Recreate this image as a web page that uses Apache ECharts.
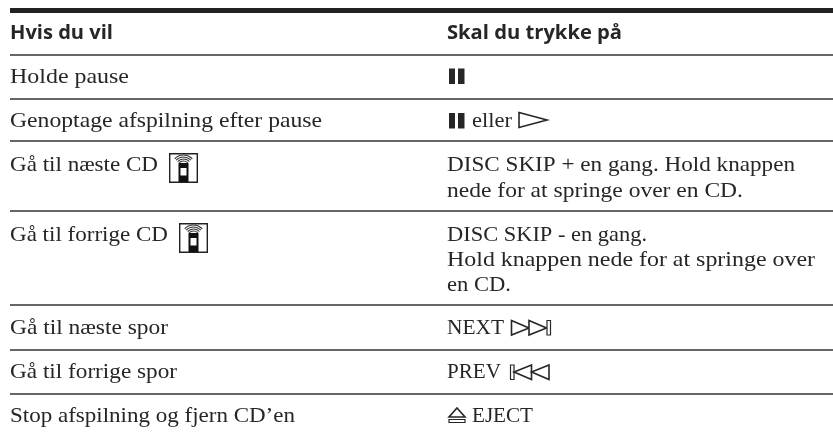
<!DOCTYPE html>
<html><head><meta charset="utf-8">
<style>html,body{margin:0;padding:0;background:#fff}#c{width:833px;height:432px}</style>
<script src="https://cdn.jsdelivr.net/npm/echarts@6/dist/echarts.min.js"></script>
</head><body><div id="c"></div>
<script>
const headers = ["Hvis du vil", "Skal du trykke på"];
const actions = ["Holde pause","Genoptage afspilning efter pause","Gå til næste CD","Gå til forrige CD","Gå til næste spor","Gå til forrige spor","Stop afspilning og fjern CD’en"];
const instructions = [[""],["eller"],["DISC SKIP + en gang. Hold knappen","nede for at springe over en CD."],["DISC SKIP - en gang.","Hold knappen nede for at springe over","en CD."],["NEXT"],["PREV"],["EJECT"]];

const INK = "#262626", SERIF = "'Liberation Serif'", SANS = "'Open Sans'";
const LEFT = 10, RIGHT = 447, FS = 21.5, HFS = 20;
const baselines = [84,128,172,242,335,379,423];
const leftEnds = [129,322,158,168,168,177,295];
const rightBase = [[84],[128],[172,198],[242,267,292],[335],[379],[423]];
const rightX = [447,472,447,447,447,447,472];
const rightEnds = [[0],[512],[795,743],[647,815,511],[504],[501],[533]];
const rules = [55,99,141,211,305,350,394];
const g = [];
const mctx = document.createElement("canvas").getContext("2d");
function text(s,x,b,end,opt){opt=opt||{};
  const fs=opt.fs||FS, ff=opt.ff||SERIF, w=opt.w||"normal", font=w+" "+fs+"px "+ff, k=opt.k||0.2915;
  mctx.font=font; const sx=(end-x)/mctx.measureText(s).width;
  g.push({type:"text",x:x,y:b-k*fs,scaleX:sx,style:{text:s,x:0,y:0,fill:INK,font:font,verticalAlign:"middle",align:"left"}});
}
function line(x1,y,x2,w,c){g.push({type:"rect",shape:{x:x1,y:y-w/2,width:x2-x1,height:w},style:{fill:c||"#333"}});}
function poly(p,fill,stroke,lw){g.push({type:"polygon",shape:{points:p},style:{fill:fill||"#fff",stroke:stroke||INK,lineWidth:lw||1.6,lineJoin:"miter"}});}
function rect(x,y,w,h,fill,stroke,lw){g.push({type:"rect",shape:{x,y,width:w,height:h},style:{fill:fill,stroke:stroke||null,lineWidth:stroke?(lw||1.2):0}});}
function pause(y){rect(449,y,6,15.5,INK);rect(458,y,6.5,15.5,INK);}
function remote(x,y){
  rect(x+.7,y+.7,27.6,28.6,"#fff","#222",1.4);
  [[12,"#333"],[10,"#333"],[8,"#333"],[6,"#333"]].forEach(function(a){
    g.push({type:"arc",shape:{cx:x+14.5,cy:y+14,r:a[0],startAngle:-Math.PI*0.76,endAngle:-Math.PI*0.24},style:{stroke:a[1],lineWidth:1.1,fill:null}});
  });
  rect(x+9.5,y+10,10,19,"#111");
  rect(x+11.5,y+15,6,7.5,"#fff");
}
line(10,10.5,833,5,"#222");
rules.forEach(y=>line(10,y,833,1.4));
text(headers[0],LEFT,40,113,{w:"bold",fs:HFS,ff:SANS,k:0.338});
text(headers[1],RIGHT,40,622,{w:"bold",fs:HFS,ff:SANS,k:0.338});
actions.forEach((s,i)=>text(s,LEFT,baselines[i],leftEnds[i]));
instructions.forEach((lines,i)=>lines.forEach((s,j)=>{if(s)text(s,rightX[i],rightBase[i][j],rightEnds[i][j]);}));
pause(68.5);pause(113);
poly([[519,112.5],[547,120],[519,127.5]]);
remote(169,153);remote(179,223);
poly([[511.5,320.5],[529,328],[511.5,335]]);poly([[529,320.5],[546.5,328],[529,335]]);rect(547,320.5,3.5,14.5,"#fff",INK);
rect(510.5,365,3.5,14.5,"#fff",INK);poly([[531.5,365],[514,372],[531.5,379.5]]);poly([[549,365],[531.5,372],[549,379.5]]);
poly([[457,408],[465,417],[449,417]]);rect(449,419.5,16,3,"#fff",INK);
echarts.init(document.getElementById("c"),null,{renderer:"canvas"}).setOption({animation:false,backgroundColor:"#fff",graphic:{elements:g}});
</script></body></html>
